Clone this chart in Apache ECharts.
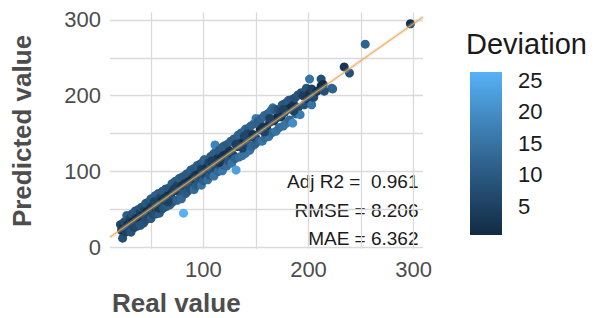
<!DOCTYPE html>
<html><head><meta charset="utf-8">
<script src="https://cdn.jsdelivr.net/npm/echarts@6/dist/echarts.min.js"></script>
<style>html,body{margin:0;padding:0;background:#fff}#c{width:597px;height:318px}</style>
</head><body><div id="c"></div>
<script>
// ---- data ----
const realValues = [
  21,22,23,24,25,26,27,28,29,30,30,31,32,33,34,35,36,37,38,39,40,40,
  41,42,43,44,45,45,46,47,48,49,50,50,51,52,53,54,55,55,56,57,58,58,59,60,60,57,53,
  61,62,63,64,65,66,67,68,69,70,70,71,72,73,74,75,75,76,77,78,79,80,80,81,79,66,72,
  82,83,84,85,86,87,88,89,90,91,91,92,93,94,95,96,97,98,98,99,100,100,101,102,103,
  104,105,106,107,108,109,110,110,111,112,113,114,115,116,117,118,118,119,120,120,121,122,123,124,125,108,115,
  126,127,128,129,130,131,132,133,134,135,136,137,138,139,140,140,141,142,143,144,145,145,144,139,142,131,137,
  146,147,148,149,150,150,152,153,154,155,156,157,158,159,160,161,162,163,164,165,166,167,168,169,170,158,163,
  171,172,173,174,175,176,177,178,179,180,181,182,183,184,185,186,187,188,190,190,192,193,195,196,198,176,186,
  199,201,201,203,203,205,208,212,212,214,222,223,215,234,239,254,297
];
const predictedValues = [
  30,22,12,27,34,20,42,30,22,38,33,20,44,34,26,48,38,28,50,40,29,46,
  53,42,32,50,58,36,47,40,60,50,38,64,54,44,53,68,44,58,48,71,60,45,66,50,61,52,60,
  74,52,65,77,54,68,78,56,70,84,59,74,62,87,75,62,82,77,91,66,81,70,93,45,64,60,77,
  84,71,97,74,87,78,102,80,91,76,104,95,81,108,85,97,110,82,103,91,114,88,116,95,105,
  89,112,95,120,100,110,124,94,135,104,117,100,128,108,118,132,101,121,108,134,122,107,136,114,127,114,112,
  140,111,122,143,117,102,133,148,119,137,151,121,139,127,156,124,143,130,157,134,146,160,128,147,150,136,131,
  133,149,163,136,170,144,166,140,155,170,140,159,174,145,158,176,146,165,180,151,184,167,182,153,171,152,170,
  182,158,181,172,188,160,178,190,164,182,194,168,184,195,164,188,197,176,201,184,175,204,200,188,210,182,180,
  196,203,222,188,209,198,206,222,213,215,210,209,206,238,230,268,295
];
const deviationValues = [
  6,1,8,3,7,5,11,2,6,6,3,9,9,1,6,10,2,7,9,1,9,5,
  9,1,9,5,10,8,1,6,9,1,10,11,3,7,1,11,9,3,7,11,2,11,6,9,1,4,5,
  10,9,2,10,10,2,9,11,1,11,10,3,9,11,1,12,6,1,11,11,2,9,10,26.3,13,5,4,
  2,11,10,10,1,8,11,8,0.5,14,10,3,11,11,9,1,10,15,4,7,11,11,12,6,2,
  14,6,10,10,8,1,11,15,18,7,3,13,10,8,1,11,16,2,11,11,1,14,10,9,2,4,3,
  11,15,5,11,12,23,1,12,14,2,12,15,1,11,13,15,2,11,11,9,1,12,15,6,6,4,5,
  13,2,12,12,16,6,11,12,1,12,15,2,13,13,2,12,15,2,13,13,14,1,11,15,1,5,5,
  9,14,7,2,10,15,1,9,15,2,10,13,1,9,20,2,8,12,9,6,17,8,4,8,9,5,5,
  3,2,15,15,5,7,2,8,1,1,11,12,8,3,8,12,2
];
const fitX = [11, 309];
const fitY = [13.2, 304];
const xTickLabels = [100, 200, 300];
const yTickLabels = [0, 100, 200, 300];
const xGridValues = [50, 100, 150, 200, 250, 300];
const yGridValues = [0, 50, 100, 150, 200, 250, 300];
const legendTicks = [5, 10, 15, 20, 25];
const statLabels = ['Adj R2 =  0.961', 'RMSE = 8.206', 'MAE = 6.362'];
const xTitle = 'Real value';
const yTitle = 'Predicted value';
const legendTitle = 'Deviation';

// ---- chart ----
const FONT = '"Liberation Sans", Arial, sans-serif';
const palette = ['#132B43', '#224A6E', '#336A98', '#448DC6', '#56B1F7'];
const devMin = Math.min(...deviationValues);
const devMax = Math.max(...deviationValues);
const points = realValues.map((r, i) => [r, predictedValues[i], deviationValues[i]]);
const fitData = fitX.map((x, i) => [x, fitY[i]]);

const chart = echarts.init(document.getElementById('c'), null, {renderer: 'svg'});
const gridLine = {show: true, lineStyle: {color: '#dadada', width: 1.3}};

chart.setOption({
  animation: false,
  backgroundColor: '#fff',
  textStyle: {fontFamily: FONT},
  grid: [
    {left: 110, right: 174, top: 12.4, bottom: 69.2},
    {left: 470, top: 72, width: 32, height: 163}
  ],
  xAxis: [
    {type: 'value', gridIndex: 0, min: 11, max: 309,
     axisLine: {show: false},
     axisTick: {show: false, customValues: xGridValues},
     splitLine: gridLine,
     axisLabel: {customValues: xTickLabels, fontSize: 22, color: '#4d4d4d', margin: 10, fontFamily: FONT}},
    {type: 'category', gridIndex: 1, data: ['bar'], show: false}
  ],
  yAxis: [
    {type: 'value', gridIndex: 0, min: -2, max: 310,
     axisLine: {show: false},
     axisTick: {show: false, customValues: yGridValues},
     splitLine: gridLine,
     axisLabel: {customValues: yTickLabels, fontSize: 22, color: '#4d4d4d', margin: 9, fontFamily: FONT}},
    {type: 'value', gridIndex: 1, min: devMin, max: devMax, position: 'left',
     axisLine: {show: false}, splitLine: {show: false},
     axisTick: {show: true, inside: true, length: 6, customValues: legendTicks, lineStyle: {color: '#fff', width: 1.5}},
     axisLabel: {show: false}},
    {type: 'value', gridIndex: 1, min: devMin, max: devMax, position: 'right',
     axisLine: {show: false}, splitLine: {show: false},
     axisTick: {show: true, inside: true, length: 6, customValues: legendTicks, lineStyle: {color: '#fff', width: 1.5}},
     axisLabel: {show: true, customValues: legendTicks, fontSize: 22, color: '#1a1a1a', margin: 16, fontFamily: FONT}}
  ],
  visualMap: {
    type: 'continuous', show: false, dimension: 2, seriesIndex: 0,
    min: devMin, max: devMax, inRange: {color: palette}
  },
  series: [
    {type: 'scatter', xAxisIndex: 0, yAxisIndex: 0, data: points, symbolSize: 9,
     itemStyle: {opacity: 1}, silent: true},
    {type: 'line', xAxisIndex: 0, yAxisIndex: 0, data: fitData, showSymbol: false, silent: true,
     lineStyle: {color: 'rgba(200,200,200,0.3)', width: 4}, z: 3},
    {type: 'line', xAxisIndex: 0, yAxisIndex: 0, data: fitData, showSymbol: false, silent: true,
     lineStyle: {color: '#f4a93a', width: 1.1, opacity: 0.85}, z: 4},
    {type: 'bar', xAxisIndex: 1, yAxisIndex: 1, data: [devMax], barWidth: '100%', silent: true,
     itemStyle: {color: {type: 'linear', x: 0, y: 0, x2: 0, y2: 1, colorStops: [
       {offset: 0, color: palette[4]}, {offset: 0.25, color: palette[3]}, {offset: 0.5, color: palette[2]},
       {offset: 0.75, color: palette[1]}, {offset: 1, color: palette[0]}]}}}
  ],
  graphic: [
    {type: 'text', left: 112, top: 290, style: {text: xTitle, font: 'bold 26px ' + FONT, fill: '#4d4d4d'}},
    {type: 'text', x: 22, y: 131, rotation: Math.PI / 2,
     style: {text: yTitle, font: 'bold 26px ' + FONT, fill: '#4d4d4d', align: 'center', verticalAlign: 'middle'}},
    {type: 'text', left: 466, top: 29, style: {text: legendTitle, font: '29px ' + FONT, fill: '#1a1a1a'}},
    {type: 'text', x: 418.5, y: 181, style: {text: statLabels[0], font: '19px ' + FONT, fill: '#1a1a1a', align: 'right', verticalAlign: 'middle'}},
    {type: 'text', x: 418.5, y: 210, style: {text: statLabels[1], font: '19px ' + FONT, fill: '#1a1a1a', align: 'right', verticalAlign: 'middle'}},
    {type: 'text', x: 418.5, y: 238.5, style: {text: statLabels[2], font: '19px ' + FONT, fill: '#1a1a1a', align: 'right', verticalAlign: 'middle'}}
  ]
});
</script></body></html>
